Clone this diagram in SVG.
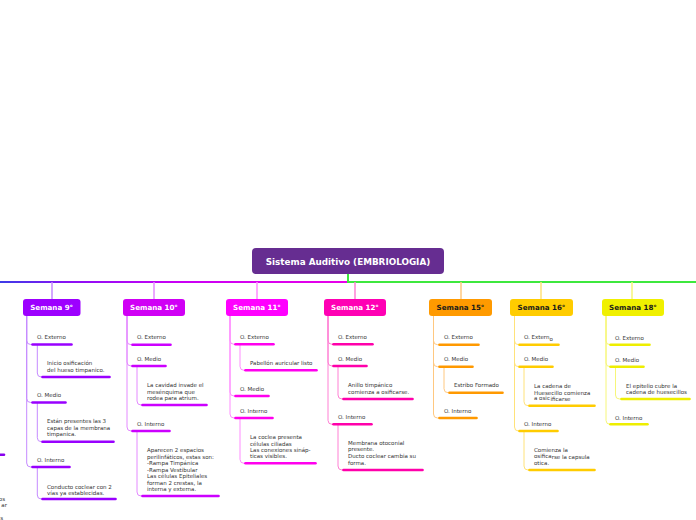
<svg xmlns="http://www.w3.org/2000/svg" width="696" height="520" viewBox="0 0 696 520">
<style>
.t{font-family:"DejaVu Sans",Verdana,sans-serif;font-size:5.5px;fill:#333}
.wk{font-family:"DejaVu Sans",Verdana,sans-serif;font-size:7.1px;font-weight:bold;text-anchor:middle}
.root{font-family:"DejaVu Sans",Verdana,sans-serif;font-size:8.8px;font-weight:bold;fill:#fff;text-anchor:middle}
.c{fill:none;stroke-width:1}
.u{fill:none;stroke-width:2.6;stroke-linecap:round}
.stub{fill:none;stroke-width:1.5}
.p9 .c,.p9 .stub{stroke:#c58aff}.p9 .u{stroke:#9900ff}
.p10 .c,.p10 .stub{stroke:#e48aff}.p10 .u{stroke:#cc00ff}
.p11 .c,.p11 .stub{stroke:#ff8cff}.p11 .u{stroke:#ff00ee}
.p12 .c,.p12 .stub{stroke:#ff80d4}.p12 .u{stroke:#ff00aa}
.p15 .c,.p15 .stub{stroke:#ffc880}.p15 .u{stroke:#ff9900}
.p16 .c,.p16 .stub{stroke:#ffe27a}.p16 .u{stroke:#ffcc00}
.p18 .c,.p18 .stub{stroke:#f6f67a}.p18 .u{stroke:#eeee00}
</style>
<defs>
<linearGradient id="lg" gradientUnits="userSpaceOnUse" x1="0" y1="0" x2="348" y2="0">
<stop offset="0" stop-color="#3c3ce6"/>
<stop offset="0.2" stop-color="#8a10f5"/>
<stop offset="0.5" stop-color="#c800f5"/>
<stop offset="1" stop-color="#e800e8"/>
</linearGradient>
</defs>

<g id="connectors">
<path d="M0 282 H348" fill="none" stroke="url(#lg)" stroke-width="2"/>
<path d="M348 274 V282 H696" fill="none" stroke="#3de83d" stroke-width="2"/>
<g class="p9"><path class="stub" d="M52 282 V299"/>
<path class="c" d="M26.7 316 V340.5 Q26.7 344.5 30.7 344.5 H32"/>
<path class="c" d="M26.7 316 V398.5 Q26.7 402.5 30.7 402.5 H32"/>
<path class="c" d="M26.7 316 V463 Q26.7 467 30.7 467 H32"/>
<path class="c" d="M37.3 344.5 V373 Q37.3 377 41.3 377 H42"/>
<path class="c" d="M37.3 402.5 V437.7 Q37.3 441.7 41.3 441.7 H42"/>
<path class="c" d="M37.3 467 V495 Q37.3 499 41.3 499 H42"/>
</g>
<g class="p10"><path class="stub" d="M154 282 V299"/>
<path class="c" d="M127 316 V340.7 Q127 344.7 131 344.7 H132"/>
<path class="c" d="M127 316 V362 Q127 366 131 366 H132"/>
<path class="c" d="M127 316 V427 Q127 431 131 431 H132"/>
<path class="c" d="M137 366 V401 Q137 405 141 405 H142"/>
<path class="c" d="M137 431 V492 Q137 496 141 496 H142"/>
</g>
<g class="p11"><path class="stub" d="M257 282 V299"/>
<path class="c" d="M230 316 V340.3 Q230 344.3 234 344.3 H235"/>
<path class="c" d="M230 316 V392 Q230 396 234 396 H235"/>
<path class="c" d="M230 316 V414 Q230 418 234 418 H235"/>
<path class="c" d="M240 344.3 V366.3 Q240 370.3 244 370.3 H245"/>
<path class="c" d="M240 418 V459.3 Q240 463.3 244 463.3 H245"/>
</g>
<g class="p12"><path class="stub" d="M355 282 V299"/>
<path class="c" d="M328 316 V340.3 Q328 344.3 332 344.3 H333"/>
<path class="c" d="M328 316 V362 Q328 366 332 366 H333"/>
<path class="c" d="M328 316 V420.3 Q328 424.3 332 424.3 H333"/>
<path class="c" d="M338 366 V395 Q338 399 342 399 H343"/>
<path class="c" d="M338 424.3 V466 Q338 470 342 470 H343"/>
</g>
<g class="p15"><path class="stub" d="M461 282 V299"/>
<path class="c" d="M433.5 316 V340.7 Q433.5 344.7 437.5 344.7 H439"/>
<path class="c" d="M433.5 316 V362.7 Q433.5 366.7 437.5 366.7 H439"/>
<path class="c" d="M433.5 316 V414 Q433.5 418 437.5 418 H439"/>
<path class="c" d="M444 366.7 V388.7 Q444 392.7 448 392.7 H449"/>
</g>
<g class="p16"><path class="stub" d="M541 282 V299"/>
<path class="c" d="M514.5 316 V340.7 Q514.5 344.7 518.5 344.7 H519"/>
<path class="c" d="M514.5 316 V362.7 Q514.5 366.7 518.5 366.7 H519"/>
<path class="c" d="M514.5 316 V427 Q514.5 431 518.5 431 H519"/>
<path class="c" d="M524 366.7 V401.7 Q524 405.7 528 405.7 H529"/>
<path class="c" d="M524 431 V466 Q524 470 528 470 H529"/>
</g>
<g class="p18"><path class="stub" d="M632 282 V299"/>
<path class="c" d="M606 316 V340.7 Q606 344.7 610 344.7 H610.5"/>
<path class="c" d="M606 316 V362.7 Q606 366.7 610 366.7 H610.5"/>
<path class="c" d="M606 316 V420.3 Q606 424.3 610 424.3 H610.5"/>
<path class="c" d="M615.5 366.7 V395 Q615.5 399 619.5 399 H621"/>
</g>
</g>

<g id="root">
<rect x="252" y="248" width="192" height="26" rx="4" fill="#662d91"/>
<text class="root" x="348" y="264.5">Sistema Auditivo (EMBRIOLOGIA)</text>
</g>

<g id="offscreen-left">
<path d="M-30 454.7 H4" fill="none" stroke="#8800ee" stroke-width="2.6" stroke-linecap="round"/>
<text class="t" x="5" y="500.5" text-anchor="end">os</text>
<text class="t" x="7" y="507" text-anchor="end">ar</text>
<text class="t" x="3" y="520" text-anchor="end">s</text>
</g>

<g id="semana9" class="p9">
<rect x="23" y="299" width="57.5" height="17" rx="3" fill="#9d00ff"/>
<text class="wk" x="51.7" y="310.3" fill="#fff">Semana 9°</text>
<text class="t" x="37" y="339.3">O. Externo</text><path class="u" d="M32.5 344.5 H71.5"/>
<text class="t" x="47" y="365">Inicio osificación</text><text class="t" x="47" y="371.8">del hueso timpanico.</text><path class="u" d="M42.5 377 H109.5"/>
<text class="t" x="37" y="397.4">O. Medio</text><path class="u" d="M32.5 402.5 H65.5"/>
<text class="t" x="47" y="423">Están presentes las 3</text><text class="t" x="47" y="429.7">capas de la membrana</text><text class="t" x="47" y="436.4">timpanica.</text><path class="u" d="M42.5 441.7 H113.5"/>
<text class="t" x="37" y="462">O. Interno</text><path class="u" d="M32.5 467 H69.5"/>
<text class="t" x="47" y="488.7">Conducto coclear con 2</text><text class="t" x="47" y="495.4">vías ya establecidas.</text><path class="u" d="M42.5 499 H115.5"/>
</g>

<g id="semana10" class="p10">
<rect x="123" y="299" width="62" height="17" rx="3" fill="#d000f5"/>
<text class="wk" x="154" y="310.3" fill="#fff">Semana 10°</text>
<text class="t" x="137" y="339.3">O. Externo</text><path class="u" d="M132.5 344.7 H170.5"/>
<text class="t" x="137" y="361">O. Medio</text><path class="u" d="M132.5 366 H165.5"/>
<text class="t" x="147" y="387">La cavidad invade el</text><text class="t" x="147" y="393.7">mesénquima que</text><text class="t" x="147" y="400.3">rodea para atrium.</text><path class="u" d="M142.5 405 H206.5"/>
<text class="t" x="137" y="425.8">O. Interno</text><path class="u" d="M132.5 431 H169.5"/>
<text class="t" x="147" y="452">Aparecen 2 espacios</text>
<text class="t" x="147" y="458.5">perilinfáticos, estas son:</text>
<text class="t" x="147" y="465">-Rampa Timpánica</text>
<text class="t" x="147" y="471.5">-Rampa Vestibular</text>
<text class="t" x="147" y="478">Las células Epiteliales</text>
<text class="t" x="147" y="484.5">forman 2 crestas, la</text>
<text class="t" x="147" y="491">interna y externa.</text>
<path class="u" d="M142.5 496 H218.5"/>
</g>

<g id="semana11" class="p11">
<rect x="226" y="299" width="62" height="17" rx="3" fill="#ff00ff"/>
<text class="wk" x="257" y="310.3" fill="#fff">Semana 11°</text>
<text class="t" x="240" y="339.2">O. Externo</text><path class="u" d="M235.5 344.3 H273.5"/>
<text class="t" x="250" y="365.2">Pabellón auricular listo</text><path class="u" d="M245.5 370.3 H316.5"/>
<text class="t" x="240" y="391">O. Medio</text><path class="u" d="M235.5 396 H268.5"/>
<text class="t" x="240" y="413">O. Interno</text><path class="u" d="M235.5 418 H272.5"/>
<text class="t" x="250" y="439">La coclea presenta</text><text class="t" x="250" y="445.5">células ciliadas</text><text class="t" x="250" y="452">Las conexiones sináp-</text><text class="t" x="250" y="458.3">ticas visibles.</text><path class="u" d="M245.5 463.3 H315.5"/>
</g>

<g id="semana12" class="p12">
<rect x="324" y="299" width="62" height="17" rx="3" fill="#ff00b4"/>
<text class="wk" x="355" y="310.3" fill="#fff">Semana 12°</text>
<text class="t" x="338" y="339.2">O. Externo</text><path class="u" d="M333.5 344.3 H372.5"/>
<text class="t" x="338" y="361">O. Medio</text><path class="u" d="M333.5 366 H366.5"/>
<text class="t" x="348" y="387">Anillo timpánico</text><text class="t" x="348" y="393.7">comienza a osificarse.</text><path class="u" d="M343.5 399 H412.5"/>
<text class="t" x="338" y="419.2">O. Interno</text><path class="u" d="M333.5 424.3 H371.5"/>
<text class="t" x="348" y="444.7">Membrana otoconial</text><text class="t" x="348" y="451.3">presente.</text><text class="t" x="348" y="458">Ducto coclear cambia su</text><text class="t" x="348" y="464.7">forma.</text><path class="u" d="M343.5 470 H422.5"/>
</g>

<g id="semana15" class="p15">
<rect x="429" y="299" width="63" height="17" rx="3" fill="#ff9a00"/>
<text class="wk" x="460.5" y="310.3" fill="#1a1a1a">Semana 15°</text>
<text class="t" x="444" y="339.3">O. Externo</text><path class="u" d="M439.5 344.7 H478.5"/>
<text class="t" x="444" y="360.8">O. Medio</text><path class="u" d="M439.5 366.7 H472.5"/>
<text class="t" x="454" y="387">Estribo Formado</text><path class="u" d="M449.5 392.7 H502.5"/>
<text class="t" x="444" y="413">O. Interno</text><path class="u" d="M439.5 418 H476.5"/>
</g>

<g id="semana16" class="p16">
<rect x="510" y="299" width="63" height="17" rx="3" fill="#ffcc00"/>
<text class="wk" x="541.5" y="310.3" fill="#1a1a1a">Semana 16°</text>
<text class="t" x="524" y="339.3">O. Extern<tspan dy="1.3">o</tspan></text><path class="u" d="M519.5 344.7 H558.5"/>
<text class="t" x="524" y="361">O. Medio</text><path class="u" d="M519.5 366.7 H552.5"/>
<text class="t" x="534" y="387.5">La cad<tspan dy="0.6">ena de</tspan></text><text class="t" x="534" y="394.6">Huesecillo comienza</text><text class="t" x="534" y="400.3">a osic<tspan x="550.5" dy="1">ificarse</tspan></text><path class="u" d="M529.5 405.7 H594.5"/>
<text class="t" x="524" y="426">O. Interno</text><path class="u" d="M519.5 431 H557.5"/>
<text class="t" x="534" y="452">Comienza la</text><text class="t" x="534" y="458.4">osifica<tspan dy="0.7">rse la capsula</tspan></text><text class="t" x="534" y="464.7">otica.</text><path class="u" d="M529.5 470 H594.5"/>
</g>

<g id="semana18" class="p18">
<rect x="602" y="299" width="62" height="17" rx="3" fill="#f0f000"/>
<text class="wk" x="633" y="310.3" fill="#1a1a1a">Semana 18°</text>
<text class="t" x="615" y="340">O. Externo</text><path class="u" d="M610.5 344.7 H649.5"/>
<text class="t" x="615" y="362">O. Medio</text><path class="u" d="M610.5 366.7 H643.5"/>
<text class="t" x="626" y="388">El epitelio cubre la</text><text class="t" x="626" y="394.2">cadena de huesecillos</text><path class="u" d="M621.5 399 H689.5"/>
<text class="t" x="615" y="420">O. Interno</text><path class="u" d="M610.5 424.3 H647.5"/>
</g>
</svg>
